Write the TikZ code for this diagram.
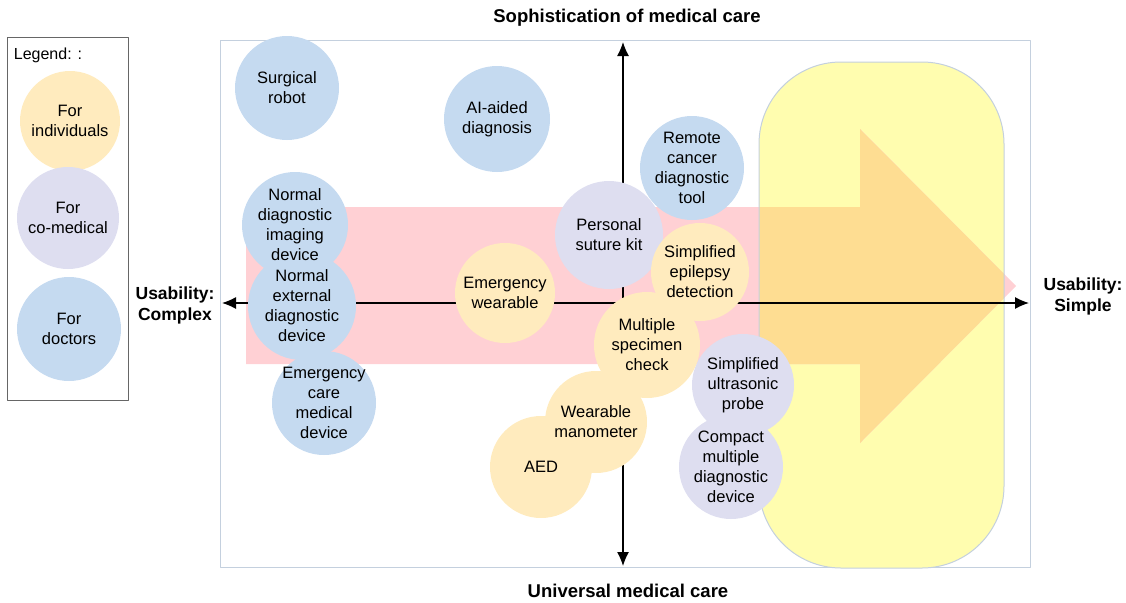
\documentclass[tikz,border=0pt]{standalone}
\usepackage{fontspec}
\setmainfont{Liberation Sans}
\usetikzlibrary{arrows.meta}
\usetikzlibrary{shapes, positioning}

\definecolor{docblue}{RGB}{197,218,240}
\definecolor{comedlav}{RGB}{222,222,240}
\definecolor{indivyel}{RGB}{255,235,190}
\definecolor{framegray}{RGB}{196,208,222}
\definecolor{arrowpink}{RGB}{255,208,212}
\definecolor{zoneyel}{RGB}{255,253,175}
\definecolor{zoneorange}{RGB}{254,221,146}

\tikzset{
  bubble/.style={circle,draw=none,inner sep=0pt,minimum size=102bp},
  bubbletext/.style={align=center,inner sep=0pt,font=\fontsize{16.5bp}{20bp}\selectfont},
  forDoc/.style={bubble,fill=docblue},
  forCoMed/.style={bubble,fill=comedlav},
  forIndiv/.style={bubble,fill=indivyel},
  axislabel/.style={align=center,font=\bfseries\fontsize{17.5bp}{21bp}\selectfont},
}

\begin{document}
\begin{tikzpicture}[>={Latex[length=14bp,width=12bp]},line join=bevel,]
%%
\useasboundingbox (0bp,0bp) rectangle (1126bp,-603bp);
% legend
\draw [gray!80!black,line width=1bp] (7bp,-37bp) rectangle (128bp,-400bp);
\node (legend_title) at (48bp,-55bp) {\fontsize{16bp}{19bp}\selectfont Legend: :};
% frame
\draw [framegray,line width=1bp] (220bp,-40bp) rectangle (1030bp,-567bp);
% zone of simple usability
\path [fill=zoneyel,rounded corners=82bp] (759bp,-62bp) rectangle (1004bp,-568bp);
% trend arrow
\path [fill=arrowpink] (246bp,-207bp) -- (860bp,-207bp) -- (860bp,-129bp) -- (1016bp,-286bp)
  -- (860bp,-443bp) -- (860bp,-364bp) -- (246bp,-364bp) -- cycle;
\begin{scope}
  \clip [rounded corners=82bp] (759bp,-62bp) rectangle (1004bp,-568bp);
  \path [fill=zoneorange] (246bp,-207bp) -- (860bp,-207bp) -- (860bp,-129bp) -- (1016bp,-286bp)
    -- (860bp,-443bp) -- (860bp,-364bp) -- (246bp,-364bp) -- cycle;
\end{scope}
\draw [framegray,line width=1bp,rounded corners=82bp] (759bp,-62bp) rectangle (1004bp,-568bp);
% axes
\coordinate (ax_top) at (623bp,-42bp);
\coordinate (ax_bottom) at (623bp,-566bp);
\coordinate (ax_left) at (222bp,-303bp);
\coordinate (ax_right) at (1029bp,-303bp);
\draw [black,line width=1.2bp,<->] (ax_bottom) -- (ax_top);
\draw [black,line width=1.2bp,<->] (ax_left) -- (ax_right);
\node (lab_top) at (627bp,-18bp) [axislabel,font=\bfseries\fontsize{18.5bp}{21bp}\selectfont] {Sophistication of medical care};
\node (lab_bottom) at (628bp,-591bp) [axislabel,font=\bfseries\fontsize{18.5bp}{21bp}\selectfont] {Universal medical care};
\node (lab_left) at (175bp,-305bp) [axislabel] {Usability:\\Complex};
\node (lab_right) at (1083bp,-296bp) [axislabel] {Usability:\\Simple};
% bubbles first, texts on top of all of them
\foreach \name/\x/\y/\d/\kind in {
    legend_indiv/70/121/100/forIndiv, legend_comed/68/218/102/forCoMed, legend_doc/69/329/104/forDoc,
    surgical_robot/287/88/104/forDoc, ai_diagnosis/497/119/106/forDoc, remote_cancer/692/168/104/forDoc,
    normal_external/302/306/108/forDoc, normal_imaging/295/225/106/forDoc, emergency_care/324/403/104/forDoc,
    suture_kit/609/235/108/forCoMed, ultrasonic/743/385/102/forCoMed, compact_multi/731/467/104/forCoMed,
    emerg_wearable/505/293/100/forIndiv, epilepsy/700/272/98/forIndiv, specimen/647/345/106/forIndiv,
    manometer/596/422/102/forIndiv, aed/541/467/102/forIndiv}
  \node (\name) at (\x bp,-\y bp) [\kind,minimum size=\d bp] {};
\foreach \name/\txt in {
    legend_indiv/{For\\individuals}, legend_comed/{For\\co-medical}, legend_doc/{For\\doctors},
    surgical_robot/{Surgical\\robot}, ai_diagnosis/{AI-aided\\diagnosis},
    remote_cancer/{Remote\\cancer\\diagnostic\\tool},
    normal_imaging/{Normal\\diagnostic\\imaging\\device},
    normal_external/{Normal\\external\\diagnostic\\device},
    emergency_care/{Emergency\\care\\medical\\device},
    suture_kit/{Personal\\suture kit}, ultrasonic/{Simplified\\ultrasonic\\probe},
    compact_multi/{Compact\\multiple\\diagnostic\\device},
    emerg_wearable/{Emergency\\wearable}, epilepsy/{Simplified\\epilepsy\\detection},
    specimen/{Multiple\\specimen\\check}, manometer/{Wearable\\manometer}, aed/{AED}}
  \node (\name_text) at (\name.center) [bubbletext] {\txt};
%
\end{tikzpicture}
\end{document}
